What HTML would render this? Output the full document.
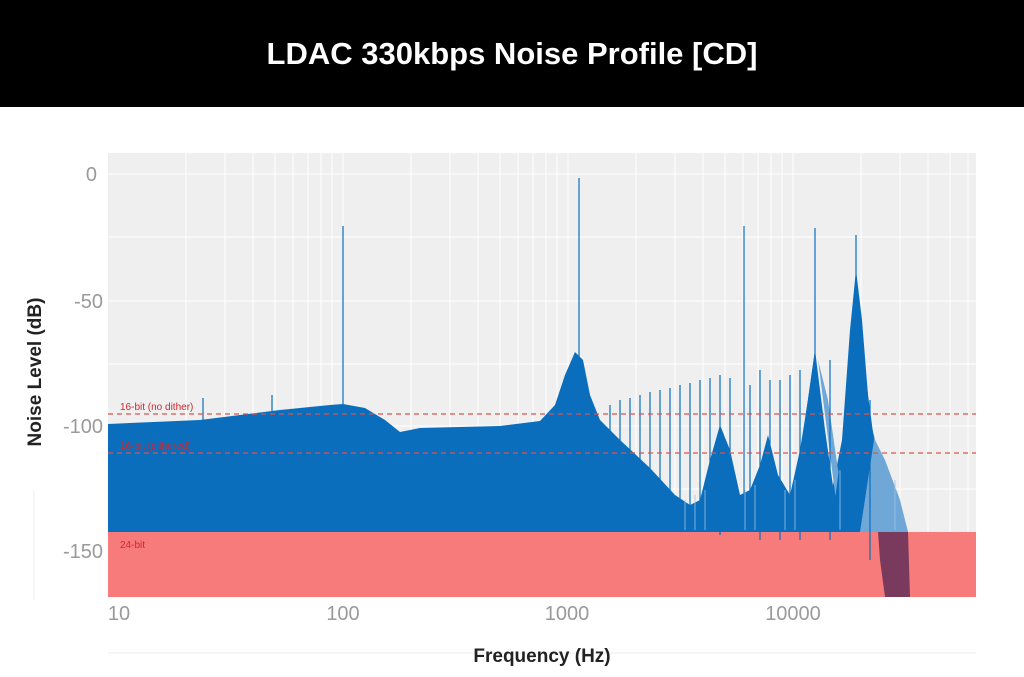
<!DOCTYPE html>
<html><head><meta charset="utf-8"><style>
body{margin:0;width:1024px;height:672px;background:#fff;overflow:hidden;font-family:"Liberation Sans",sans-serif}
</style></head><body>
<svg width="1024" height="672" xmlns="http://www.w3.org/2000/svg" font-family="Liberation Sans, sans-serif">
<rect x="0" y="0" width="1024" height="107" fill="#000"/>
<text x="512" y="64" fill="#fff" font-size="31" font-weight="bold" text-anchor="middle">LDAC 330kbps Noise Profile [CD]</text>
<rect x="108" y="153" width="868" height="444" fill="#efefef"/>
<g stroke="#fff" stroke-width="1">
<line x1="108" x2="976" y1="174" y2="174"/><line x1="108" x2="976" y1="237" y2="237"/>
<line x1="108" x2="976" y1="301" y2="301"/><line x1="108" x2="976" y1="364" y2="364"/>
<line x1="108" x2="976" y1="426" y2="426"/><line x1="108" x2="976" y1="489" y2="489"/>
<line x1="108" x2="976" y1="551" y2="551"/>
<line x1="186" x2="186" y1="153" y2="597"/><line x1="225" x2="225" y1="153" y2="597"/><line x1="253" x2="253" y1="153" y2="597"/><line x1="275" x2="275" y1="153" y2="597"/><line x1="293" x2="293" y1="153" y2="597"/><line x1="308" x2="308" y1="153" y2="597"/><line x1="321" x2="321" y1="153" y2="597"/><line x1="332" x2="332" y1="153" y2="597"/><line x1="343" x2="343" y1="153" y2="597"/>
<line x1="411" x2="411" y1="153" y2="597"/><line x1="450" x2="450" y1="153" y2="597"/><line x1="478" x2="478" y1="153" y2="597"/><line x1="500" x2="500" y1="153" y2="597"/><line x1="518" x2="518" y1="153" y2="597"/><line x1="533" x2="533" y1="153" y2="597"/><line x1="546" x2="546" y1="153" y2="597"/><line x1="557" x2="557" y1="153" y2="597"/><line x1="568" x2="568" y1="153" y2="597"/>
<line x1="636" x2="636" y1="153" y2="597"/><line x1="675" x2="675" y1="153" y2="597"/><line x1="703" x2="703" y1="153" y2="597"/><line x1="725" x2="725" y1="153" y2="597"/><line x1="743" x2="743" y1="153" y2="597"/><line x1="758" x2="758" y1="153" y2="597"/><line x1="771" x2="771" y1="153" y2="597"/><line x1="782" x2="782" y1="153" y2="597"/><line x1="793" x2="793" y1="153" y2="597"/>
<line x1="861" x2="861" y1="153" y2="597"/><line x1="900" x2="900" y1="153" y2="597"/><line x1="928" x2="928" y1="153" y2="597"/><line x1="950" x2="950" y1="153" y2="597"/><line x1="968" x2="968" y1="153" y2="597"/>
</g>
<rect x="108" y="532" width="868" height="65" fill="#f77b7b"/>
<polygon fill="#0a6ebd" points="108,424 200,420 280,410 330,405 343,404 365,408 385,420 400,432 420,428 500,426 540,421 555,405 565,375 575,352 583,360 590,395 600,420 620,440 650,468 675,495 690,505 700,500 710,460 720,425 730,450 740,495 750,490 760,465 768,435 778,475 790,495 800,450 808,400 815,350 822,420 832,490 842,440 850,330 856,270 862,320 870,420 880,460 892,490 902,510 908,532 108,532"/>
<polygon fill="#6fa8d6" points="818,360 828,400 838,470 848,500 870,430 885,460 900,500 908,532 870,532 840,532"/>
<polygon fill="#0a6ebd" points="805,420 815,350 825,430 835,500 845,420 856,270 866,380 874,440 860,532 800,532"/>
<polygon fill="#7a3a5e" points="878,532 908,532 910,597 885,597 880,560"/>
<g stroke="#0a6ebd" stroke-width="1.2">
<line x1="343" y1="226" x2="343" y2="440"/><line x1="579" y1="178" x2="579" y2="420"/>
<line x1="744" y1="226" x2="744" y2="500"/><line x1="815" y1="228" x2="815" y2="500"/><line x1="856" y1="235" x2="856" y2="500"/>
<line x1="203" y1="398" x2="203" y2="430"/><line x1="272" y1="395" x2="272" y2="430"/>
<line x1="620" y1="400" x2="620" y2="500"/><line x1="640" y1="395" x2="640" y2="510"/><line x1="660" y1="390" x2="660" y2="520"/><line x1="680" y1="385" x2="680" y2="525"/><line x1="700" y1="380" x2="700" y2="530"/><line x1="720" y1="375" x2="720" y2="535"/><line x1="760" y1="370" x2="760" y2="540"/><line x1="780" y1="380" x2="780" y2="540"/><line x1="800" y1="370" x2="800" y2="540"/><line x1="830" y1="360" x2="830" y2="540"/><line x1="870" y1="400" x2="870" y2="560"/>
<line x1="610" y1="405" x2="610" y2="460"/><line x1="630" y1="398" x2="630" y2="470"/><line x1="650" y1="392" x2="650" y2="480"/><line x1="670" y1="388" x2="670" y2="500"/><line x1="690" y1="383" x2="690" y2="520"/><line x1="710" y1="378" x2="710" y2="525"/><line x1="730" y1="378" x2="730" y2="530"/><line x1="750" y1="385" x2="750" y2="520"/><line x1="770" y1="380" x2="770" y2="530"/><line x1="790" y1="375" x2="790" y2="520"/>
</g>
<g stroke="#9cc4e4" stroke-width="1" opacity="0.8">
<line x1="685" y1="500" x2="685" y2="530"/><line x1="695" y1="495" x2="695" y2="530"/><line x1="705" y1="490" x2="705" y2="530"/><line x1="745" y1="490" x2="745" y2="530"/><line x1="755" y1="485" x2="755" y2="530"/><line x1="785" y1="490" x2="785" y2="530"/><line x1="795" y1="480" x2="795" y2="530"/><line x1="840" y1="470" x2="840" y2="530"/><line x1="895" y1="480" x2="895" y2="530"/>
</g>
<g stroke="#d9534f" stroke-width="1.2" stroke-dasharray="5,4">
<line x1="108" x2="976" y1="414" y2="414"/><line x1="108" x2="976" y1="453" y2="453"/>
</g>
<g fill="#d0262e" font-size="10">
<text x="120" y="410">16-bit (no dither)</text>
<text x="120" y="449">16-bit (dithered)</text>
<text x="120" y="548">24-bit</text>
</g>
<g fill="#9a9a9a" font-size="20" text-anchor="end">
<text x="97" y="181">0</text><text x="103" y="308">-50</text><text x="103" y="433">-100</text><text x="103" y="558">-150</text>
</g>
<g fill="#9a9a9a" font-size="20" text-anchor="middle">
<text x="119" y="620">10</text><text x="343" y="620">100</text><text x="567" y="620">1000</text><text x="793" y="620">10000</text>
</g>
<line x1="108" x2="976" y1="653" y2="653" stroke="#eee"/>
<line x1="34" x2="34" y1="490" y2="600" stroke="#eee"/>
<text x="542" y="662" fill="#222" font-size="19" font-weight="bold" text-anchor="middle">Frequency (Hz)</text>
<text transform="translate(41,372) rotate(-90)" fill="#222" font-size="19" font-weight="bold" text-anchor="middle">Noise Level (dB)</text>
</svg>
</body></html>
